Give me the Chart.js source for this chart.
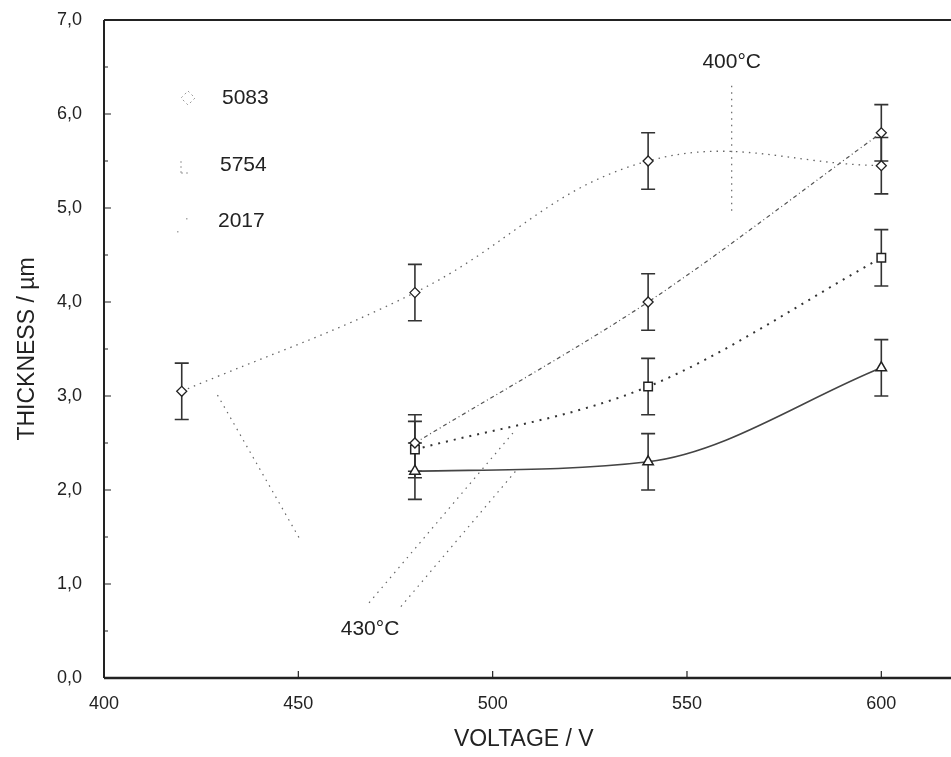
<!DOCTYPE html>
<html><head><meta charset="utf-8">
<script src="https://cdn.jsdelivr.net/npm/chart.js@4.4.1/dist/chart.umd.min.js"></script>
<style>html,body{margin:0;padding:0;background:#fff;overflow:hidden;} canvas{display:block;}</style>
</head><body>
<canvas id="c" width="951" height="757"></canvas>
<script>
// ---- data ----
const voltage400 = [420, 480, 540, 600];
const thick5083_400 = [3.05, 4.1, 5.5, 5.45];
const err5083_400 = [0.3, 0.3, 0.3, 0.3];

const voltage430 = [480, 540, 600];
const thick5083_430 = [2.5, 4.0, 5.8];
const err5083_430 = [0.3, 0.3, 0.3];
const thick5754 = [2.43, 3.1, 4.47];
const err5754 = [0.3, 0.3, 0.3];
const thick2017 = [2.2, 2.3, 3.3];
const err2017 = [0.3, 0.3, 0.3];

const xTickValues = [400, 450, 500, 550, 600];
const yTickValues = [0, 1, 2, 3, 4, 5, 6, 7];
const legendLabels = ['5083', '5754', '2017'];
const tempLabels = ['400°C', '430°C'];

// leader (annotation) lines, in data units
const leader400X = [561.5, 561.5];
const leader400Y = [6.3, 4.95];
const leader430aX = [468.2, 505.9];
const leader430aY = [0.8, 2.64];
const leader430bX = [476.4, 505.9];
const leader430bY = [0.76, 2.2];
const leaderExtraX = [429.2, 450.5];
const leaderExtraY = [3.01, 1.47];

const FONT = "'Liberation Sans', Arial, Helvetica, sans-serif";
const pts = (xs, ys) => xs.map((x, i) => ({x, y: ys[i]}));

const errorSets = [
  {x: voltage400, y: thick5083_400, e: err5083_400},
  {x: voltage430, y: thick5083_430, e: err5083_430},
  {x: voltage430, y: thick5754, e: err5754},
  {x: voltage430, y: thick2017, e: err2017}
];

const leaderStyle = {showLine: true, pointRadius: 0, borderColor: '#666', borderWidth: 1.2, borderDash: [1.5, 5], fill: false};

const custom = {
  id: 'custom',
  beforeDatasetsDraw(chart) {
    const ctx = chart.ctx, xs = chart.scales.x, ys = chart.scales.y;
    ctx.save();
    ctx.strokeStyle = '#333';
    ctx.lineWidth = 1.6;
    errorSets.forEach(s => {
      s.x.forEach((xv, i) => {
        const px = xs.getPixelForValue(xv);
        const yt = ys.getPixelForValue(s.y[i] + s.e[i]);
        const yb = ys.getPixelForValue(s.y[i] - s.e[i]);
        ctx.beginPath();
        ctx.moveTo(px, yt); ctx.lineTo(px, yb);
        ctx.moveTo(px - 7, yt); ctx.lineTo(px + 7, yt);
        ctx.moveTo(px - 7, yb); ctx.lineTo(px + 7, yb);
        ctx.stroke();
      });
    });
    ctx.restore();
  },
  afterDraw(chart) {
    const ctx = chart.ctx, a = chart.chartArea, xs = chart.scales.x, ys = chart.scales.y;
    ctx.save();
    // frame
    ctx.strokeStyle = '#222';
    ctx.lineWidth = 2;
    ctx.beginPath();
    ctx.moveTo(a.left, a.top); ctx.lineTo(chart.width, a.top);
    ctx.moveTo(a.left, a.top); ctx.lineTo(a.left, a.bottom);
    ctx.stroke();
    ctx.lineWidth = 2.5;
    ctx.beginPath();
    ctx.moveTo(a.left, a.bottom); ctx.lineTo(chart.width, a.bottom);
    ctx.stroke();
    // inward ticks
    ctx.lineWidth = 1.2;
    ctx.beginPath();
    yTickValues.forEach(v => {
      const py = ys.getPixelForValue(v);
      ctx.moveTo(a.left, py); ctx.lineTo(a.left + 7, py);
      if (v < 7) { const pm = ys.getPixelForValue(v + 0.5); ctx.moveTo(a.left, pm); ctx.lineTo(a.left + 4, pm); }
    });
    xTickValues.forEach(v => {
      const px = xs.getPixelForValue(v);
      ctx.moveTo(px, a.bottom); ctx.lineTo(px, a.bottom - 7);
    });
    ctx.stroke();
    // legend
    ctx.fillStyle = '#222';
    ctx.font = '21px ' + FONT;
    ctx.textBaseline = 'middle';
    ctx.textAlign = 'left';
    const legY = [98, 165, 221];
    const legX = [222, 220, 218];
    legendLabels.forEach((t, i) => ctx.fillText(t, legX[i], legY[i]));
    ctx.strokeStyle = '#999';
    ctx.lineWidth = 1;
    ctx.setLineDash([2, 3]);
    ctx.beginPath();
    ctx.moveTo(188, 91); ctx.lineTo(195, 98); ctx.lineTo(188, 105); ctx.lineTo(181, 98); ctx.closePath();
    ctx.stroke();
    ctx.beginPath();
    ctx.moveTo(181, 161); ctx.lineTo(181, 173); ctx.moveTo(181, 173); ctx.lineTo(191, 173);
    ctx.stroke();
    ctx.setLineDash([]);
    ctx.fillStyle = '#aaa';
    ctx.fillRect(186, 218, 1.5, 1.5);
    ctx.fillRect(177, 231, 1.5, 1.5);
    // temperature labels
    ctx.fillStyle = '#222';
    ctx.textAlign = 'center';
    ctx.fillText(tempLabels[0], xs.getPixelForValue(leader400X[0]), ys.getPixelForValue(leader400Y[0]) - 24);
    ctx.fillText(tempLabels[1], (xs.getPixelForValue(leader430aX[0]) + xs.getPixelForValue(leader430bX[0])) / 2 - 15, ys.getPixelForValue(leader430aY[0]) + 26);
    ctx.restore();
  }
};

new Chart(document.getElementById('c'), {
  type: 'scatter',
  data: {
    datasets: [
      Object.assign({label: 'lead400', data: pts(leader400X, leader400Y)}, leaderStyle),
      Object.assign({label: 'lead430a', data: pts(leader430aX, leader430aY)}, leaderStyle),
      Object.assign({label: 'lead430b', data: pts(leader430bX, leader430bY)}, leaderStyle),
      Object.assign({label: 'leadx', data: pts(leaderExtraX, leaderExtraY)}, leaderStyle),
      {label: '5083 400°C', data: pts(voltage400, thick5083_400), showLine: true, tension: 0.4,
       borderColor: '#666', borderWidth: 1.3, borderDash: [1.5, 5],
       pointStyle: 'rectRot', pointRadius: 5, pointBackgroundColor: '#fff', pointBorderColor: '#222', pointBorderWidth: 1.3},
      {label: '5083 430°C', data: pts(voltage430, thick5083_430), showLine: true, tension: 0.3,
       borderColor: '#555', borderWidth: 1.2, borderDash: [4, 3, 1, 3],
       pointStyle: 'rectRot', pointRadius: 5, pointBackgroundColor: '#fff', pointBorderColor: '#222', pointBorderWidth: 1.3},
      {label: '5754', data: pts(voltage430, thick5754), showLine: true, cubicInterpolationMode: 'monotone',
       borderColor: '#333', borderWidth: 2, borderDash: [2, 6],
       pointStyle: 'rect', pointRadius: 6, pointBackgroundColor: '#fff', pointBorderColor: '#222', pointBorderWidth: 1.5},
      {label: '2017', data: pts(voltage430, thick2017), showLine: true, cubicInterpolationMode: 'monotone',
       borderColor: '#444', borderWidth: 1.6,
       pointStyle: 'triangle', pointRadius: 6, pointBackgroundColor: '#fff', pointBorderColor: '#222', pointBorderWidth: 1.5}
    ]
  },
  options: {
    responsive: false,
    animation: false,
    devicePixelRatio: 1,
    layout: {padding: {top: 20, right: 0, bottom: 0, left: 0}},
    plugins: {legend: {display: false}, tooltip: {enabled: false}},
    scales: {
      x: {
        type: 'linear', min: 400, max: 616,
        afterBuildTicks: s => { s.ticks = xTickValues.map(v => ({value: v})); },
        afterFit: s => { s.height = 79; s.paddingLeft = 0; s.paddingRight = 0; },
        grid: {display: false, drawTicks: false},
        border: {display: false},
        ticks: {color: '#222', font: {family: FONT, size: 18}, padding: 15, maxRotation: 0, callback: v => String(v)},
        title: {display: true, text: 'VOLTAGE / V', color: '#222', font: {family: FONT, size: 23}, padding: {top: 0, bottom: 4}}
      },
      y: {
        min: 0, max: 7,
        afterBuildTicks: s => { s.ticks = yTickValues.map(v => ({value: v})); },
        afterFit: s => { s.width = 104; s.paddingTop = 0; s.paddingBottom = 0; },
        grid: {display: false, drawTicks: false},
        border: {display: false},
        ticks: {color: '#222', font: {family: FONT, size: 18}, padding: 22, callback: v => v.toFixed(1).replace('.', ',')},
        title: {display: true, text: 'THICKNESS / µm', color: '#222', font: {family: FONT, size: 23}, padding: {top: 14, bottom: 0}}
      }
    }
  },
  plugins: [custom]
});
</script>
</body></html>
